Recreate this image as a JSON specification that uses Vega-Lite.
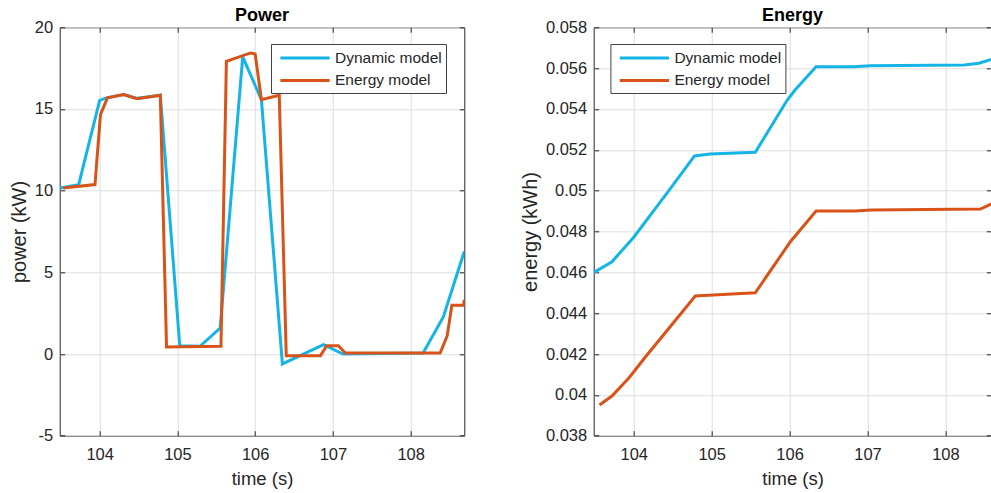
{
  "$schema": "https://vega.github.io/schema/vega-lite/v6.json",
  "autosize": {"type": "none"},
  "padding": {"left": 59.7, "top": 27.3, "right": 931.3, "bottom": 465.7},
  "background": "white",
  "bounds": "flush",
  "spacing": 129,
  "datasets": {
    "power": [
      {"model": "Dynamic model", "t": 103.49, "v": 10.16},
      {"model": "Dynamic model", "t": 103.73, "v": 10.37},
      {"model": "Dynamic model", "t": 104.00, "v": 15.53},
      {"model": "Dynamic model", "t": 104.09, "v": 15.68},
      {"model": "Dynamic model", "t": 104.31, "v": 15.88},
      {"model": "Dynamic model", "t": 104.48, "v": 15.65},
      {"model": "Dynamic model", "t": 104.78, "v": 15.84},
      {"model": "Dynamic model", "t": 105.03, "v": 0.51},
      {"model": "Dynamic model", "t": 105.29, "v": 0.47},
      {"model": "Dynamic model", "t": 105.55, "v": 1.59},
      {"model": "Dynamic model", "t": 105.84, "v": 18.19},
      {"model": "Dynamic model", "t": 106.08, "v": 15.57},
      {"model": "Dynamic model", "t": 106.35, "v": -0.61},
      {"model": "Dynamic model", "t": 106.88, "v": 0.57},
      {"model": "Dynamic model", "t": 107.13, "v": 0.0},
      {"model": "Dynamic model", "t": 108.16, "v": 0.06},
      {"model": "Dynamic model", "t": 108.42, "v": 2.27},
      {"model": "Dynamic model", "t": 108.69, "v": 6.28},
      {"model": "Energy model", "t": 103.53, "v": 10.16},
      {"model": "Energy model", "t": 103.94, "v": 10.37},
      {"model": "Energy model", "t": 104.01, "v": 14.65},
      {"model": "Energy model", "t": 104.10, "v": 15.68},
      {"model": "Energy model", "t": 104.31, "v": 15.88},
      {"model": "Energy model", "t": 104.48, "v": 15.63},
      {"model": "Energy model", "t": 104.78, "v": 15.84},
      {"model": "Energy model", "t": 104.86, "v": 0.43},
      {"model": "Energy model", "t": 105.56, "v": 0.47},
      {"model": "Energy model", "t": 105.63, "v": 17.92},
      {"model": "Energy model", "t": 105.94, "v": 18.43},
      {"model": "Energy model", "t": 106.00, "v": 18.37},
      {"model": "Energy model", "t": 106.08, "v": 15.57},
      {"model": "Energy model", "t": 106.31, "v": 15.84},
      {"model": "Energy model", "t": 106.40, "v": -0.10},
      {"model": "Energy model", "t": 106.84, "v": -0.10},
      {"model": "Energy model", "t": 106.92, "v": 0.51},
      {"model": "Energy model", "t": 107.07, "v": 0.51},
      {"model": "Energy model", "t": 107.16, "v": 0.06},
      {"model": "Energy model", "t": 108.38, "v": 0.06},
      {"model": "Energy model", "t": 108.47, "v": 1.12},
      {"model": "Energy model", "t": 108.53, "v": 2.98},
      {"model": "Energy model", "t": 108.68, "v": 2.98},
      {"model": "Energy model", "t": 108.69, "v": 3.32}
    ],
    "energy": [
      {"model": "Dynamic model", "t": 103.49, "v": 0.04600},
      {"model": "Dynamic model", "t": 103.72, "v": 0.04652},
      {"model": "Dynamic model", "t": 104.00, "v": 0.04772},
      {"model": "Dynamic model", "t": 104.45, "v": 0.05000},
      {"model": "Dynamic model", "t": 104.78, "v": 0.05170},
      {"model": "Dynamic model", "t": 104.98, "v": 0.05180},
      {"model": "Dynamic model", "t": 105.56, "v": 0.05188},
      {"model": "Dynamic model", "t": 105.97, "v": 0.05444},
      {"model": "Dynamic model", "t": 106.07, "v": 0.05493},
      {"model": "Dynamic model", "t": 106.34, "v": 0.05607},
      {"model": "Dynamic model", "t": 106.82, "v": 0.05607},
      {"model": "Dynamic model", "t": 107.04, "v": 0.05612},
      {"model": "Dynamic model", "t": 108.24, "v": 0.05615},
      {"model": "Dynamic model", "t": 108.43, "v": 0.05624},
      {"model": "Dynamic model", "t": 108.59, "v": 0.05643},
      {"model": "Energy model", "t": 103.56, "v": 0.03950},
      {"model": "Energy model", "t": 103.72, "v": 0.03994},
      {"model": "Energy model", "t": 103.94, "v": 0.04084},
      {"model": "Energy model", "t": 104.17, "v": 0.04195},
      {"model": "Energy model", "t": 104.79, "v": 0.04484},
      {"model": "Energy model", "t": 105.02, "v": 0.04489},
      {"model": "Energy model", "t": 105.56, "v": 0.04500},
      {"model": "Energy model", "t": 106.01, "v": 0.04750},
      {"model": "Energy model", "t": 106.34, "v": 0.04900},
      {"model": "Energy model", "t": 106.84, "v": 0.04900},
      {"model": "Energy model", "t": 107.05, "v": 0.04905},
      {"model": "Energy model", "t": 108.45, "v": 0.04910},
      {"model": "Energy model", "t": 108.59, "v": 0.04935}
    ]
  },
  "hconcat": [
    {
      "width": 404.6,
      "height": 408.4,
      "title": {"text": "Power"},
      "data": {"name": "power"},
      "layer": [
        {
          "mark": {"type": "line", "strokeWidth": 3, "clip": true},
          "encoding": {
            "x": {"field": "t", "type": "quantitative",
              "scale": {"domain": [103.486, 108.69], "nice": false, "zero": false},
              "axis": {"values": [104, 105, 106, 107, 108], "title": "time (s)", "labelExpr": "'' + datum.value"}},
            "y": {"field": "v", "type": "quantitative",
              "scale": {"domain": [-5, 20], "nice": false, "zero": false},
              "axis": {"values": [-5, 0, 5, 10, 15, 20], "title": "power (kW)", "labelExpr": "'' + datum.value"}},
            "color": {"field": "model", "type": "nominal",
              "scale": {"domain": ["Dynamic model", "Energy model"], "range": ["#14B4E6", "#D95319"]},
              "legend": {"title": null, "orient": "none", "legendX": 211.3, "legendY": 16.7}}
          }
        },
        {
          "mark": {"type": "line", "strokeOpacity": 0},
          "encoding": {
            "x": {"field": "t", "type": "quantitative",
              "axis": {"orient": "top", "values": [104, 105, 106, 107, 108], "labels": false, "grid": false, "title": null}},
            "y": {"field": "v", "type": "quantitative",
              "axis": {"orient": "right", "values": [-5, 0, 5, 10, 15, 20], "labels": false, "grid": false, "title": null}}
          }
        }
      ],
      "resolve": {"axis": {"x": "independent", "y": "independent"}}
    },
    {
      "width": 397.7,
      "height": 408.4,
      "title": {"text": "Energy"},
      "data": {"name": "energy"},
      "layer": [
        {
          "mark": {"type": "line", "strokeWidth": 3, "clip": true},
          "encoding": {
            "x": {"field": "t", "type": "quantitative",
              "scale": {"domain": [103.486, 108.59], "nice": false, "zero": false},
              "axis": {"values": [104, 105, 106, 107, 108], "title": "time (s)", "labelExpr": "'' + datum.value"}},
            "y": {"field": "v", "type": "quantitative",
              "scale": {"domain": [0.038, 0.058], "nice": false, "zero": false},
              "axis": {"values": [0.038, 0.04, 0.042, 0.044, 0.046, 0.048, 0.05, 0.052, 0.054, 0.056, 0.058], "title": "energy (kWh)", "labelExpr": "'' + datum.value"}},
            "color": {"field": "model", "type": "nominal",
              "scale": {"domain": ["Dynamic model", "Energy model"], "range": ["#14B4E6", "#D95319"]},
              "legend": {"title": null, "orient": "none", "legendX": 16.7, "legendY": 16.7}}
          }
        },
        {
          "mark": {"type": "line", "strokeOpacity": 0},
          "encoding": {
            "x": {"field": "t", "type": "quantitative",
              "axis": {"orient": "top", "values": [104, 105, 106, 107, 108], "labels": false, "grid": false, "title": null}},
            "y": {"field": "v", "type": "quantitative",
              "axis": {"orient": "right", "values": [0.038, 0.04, 0.042, 0.044, 0.046, 0.048, 0.05, 0.052, 0.054, 0.056, 0.058], "labels": false, "grid": false, "title": null}}
          }
        }
      ],
      "resolve": {"axis": {"x": "independent", "y": "independent"}}
    }
  ],
  "resolve": {"scale": {"color": "independent"}},
  "config": {
    "font": "Liberation Sans",
    "view": {"stroke": "#262626", "strokeWidth": 1},
    "axis": {
      "labelFont": "Liberation Sans", "labelFontSize": 16.5, "labelColor": "#262626",
      "titleFont": "Liberation Sans", "titleFontWeight": "normal", "titleColor": "#262626",
      "domain": false, "tickColor": "#262626", "tickSize": -5, "tickWidth": 1,
      "gridColor": "#dedede", "gridWidth": 1, "labelFlush": false, "labelOverlap": false
    },
    "axisX": {"labelPadding": 16, "titlePadding": 6, "titleFontSize": 18.5},
    "axisY": {"labelPadding": 12, "titlePadding": 5, "titleFontSize": 20},
    "title": {"font": "Liberation Sans", "fontSize": 18, "fontWeight": "bold", "color": "#000000", "anchor": "middle", "baseline": "bottom", "offset": -6},
    "legend": {
      "symbolType": "M-2.9,0H2.9", "symbolSize": 289, "symbolStrokeWidth": 3,
      "labelFont": "Liberation Sans", "labelFontSize": 15.5, "labelColor": "#262626",
      "labelOffset": 20, "padding": 4, "symbolOffset": 20, "rowPadding": 3.5,
      "fillColor": "white", "strokeColor": "#404040", "cornerRadius": 0
    }
  }
}
